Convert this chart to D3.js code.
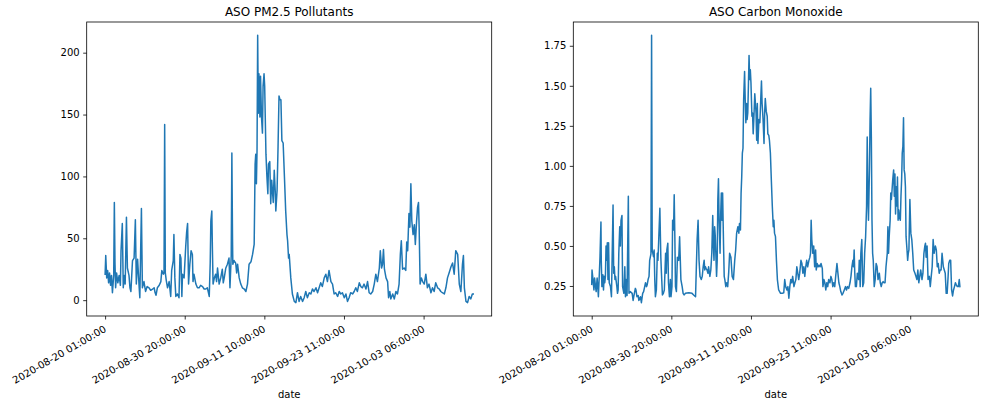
<!DOCTYPE html>
<html><head><meta charset="utf-8">
<script src="https://cdn.jsdelivr.net/npm/d3@7"></script>
<style>body{margin:0;background:#fff} text{font-family:"DejaVu Sans",sans-serif}</style>
</head><body><svg id="c" width="985" height="406"></svg>
<script>
// ---------------- data ----------------
const tickIndex = [0, 250, 500, 750, 1000];
const tickLabels = ["2020-08-20 01:00:00","2020-08-30 20:00:00","2020-09-11 10:00:00","2020-09-23 11:00:00","2020-10-03 06:00:00"];
const lastIndex = 1156;
const xLabel = "date";
const pmTitle = "ASO PM2.5 Pollutants";
const coTitle = "ASO Carbon Monoxide";
const pmTicks = [0, 50, 100, 150, 200];
const coTicks = [0.25, 0.50, 0.75, 1.00, 1.25, 1.50, 1.75];

// [row index, PM2.5]
const pm25 = [[0,21],[2,36],[5,18],[8,24],[11,14],[14,22],[17,12],[20,20],[23,6],[27,20],[29,79],[31,30],[33,10],[36,22],[40,14],[44,20],[48,12],[50,40],[54,62],[57,10],[60,20],[63,13],[67,67],[70,26],[75,20],[78,10],[81,7],[86,32],[91,34],[95,65],[98,13],[102,33],[107,10],[109,2],[114,74],[117,10],[122,15],[127,7],[132,11],[138,10],[143,8],[149,9],[154,10],[157,6],[160,4],[164,10],[170,12],[175,15],[178,24],[183,21],[185,22],[187,142],[189,22],[192,16],[196,10],[201,15],[206,3],[209,24],[214,32],[216,53],[219,18],[222,3],[227,5],[232,2],[235,37],[238,34],[241,3],[243,21],[248,18],[253,43],[256,55],[259,62],[262,13],[266,29],[270,40],[274,37],[276,15],[279,21],[285,13],[290,10],[295,10],[300,12],[306,11],[311,9],[316,9],[321,10],[327,3],[330,30],[332,64],[335,72],[337,40],[339,13],[343,18],[347,21],[350,15],[353,26],[358,13],[363,18],[368,25],[371,14],[374,18],[379,26],[384,29],[389,34],[392,10],[396,36],[398,119],[400,50],[401,29],[405,32],[410,30],[413,22],[416,29],[421,18],[426,13],[431,10],[437,9],[442,7],[447,13],[452,29],[458,31],[463,37],[468,45],[471,110],[473,118],[475,94],[477,121],[479,214],[481,151],[483,183],[486,148],[488,181],[491,148],[494,135],[496,173],[499,183],[501,173],[505,118],[508,100],[511,86],[513,110],[517,112],[520,78],[523,97],[528,79],[531,105],[534,89],[536,72],[540,89],[543,124],[546,165],[549,162],[552,162],[555,129],[559,127],[563,100],[567,72],[571,53],[573,48],[576,34],[578,37],[583,18],[588,5],[594,-1],[599,-2],[604,6],[609,-1],[614,3],[620,-1],[625,2],[630,7],[635,2],[641,6],[646,5],[651,9],[656,7],[662,10],[667,6],[672,10],[677,14],[682,11],[688,18],[693,21],[698,15],[703,24],[709,15],[714,13],[719,5],[724,6],[730,3],[735,7],[740,5],[745,6],[751,2],[756,5],[761,-1],[766,2],[771,6],[777,5],[782,7],[787,10],[792,7],[798,14],[803,11],[808,10],[813,13],[819,9],[824,15],[829,6],[834,5],[840,7],[845,13],[850,21],[855,15],[861,26],[864,40],[868,26],[871,29],[874,41],[877,25],[882,18],[887,15],[890,2],[894,7],[897,1],[903,5],[908,1],[913,7],[918,5],[923,13],[927,37],[930,48],[934,25],[939,26],[944,24],[947,47],[950,40],[954,70],[957,59],[960,94],[963,64],[967,53],[971,61],[974,45],[978,64],[981,75],[984,79],[986,59],[989,13],[993,18],[997,15],[1002,13],[1007,21],[1012,10],[1017,13],[1023,6],[1028,10],[1033,7],[1038,14],[1044,10],[1049,9],[1054,7],[1059,6],[1065,5],[1070,10],[1075,18],[1080,22],[1086,27],[1091,30],[1096,21],[1101,40],[1107,37],[1112,13],[1117,7],[1122,29],[1125,36],[1128,10],[1133,-1],[1138,-2],[1143,3],[1148,1],[1153,5],[1156,5]];

// [row index, CO]
const co = [[0,0.26],[1,0.35],[4,0.29],[7,0.225],[9,0.30],[12,0.246],[14,0.215],[17,0.30],[19,0.246],[21,0.183],[24,0.33],[26,0.43],[29,0.65],[30,0.41],[32,0.246],[35,0.32],[37,0.225],[39,0.31],[41,0.27],[43,0.31],[45,0.50],[47,0.41],[49,0.52],[51,0.29],[53,0.52],[55,0.27],[59,0.246],[62,0.183],[64,0.41],[67,0.756],[69,0.33],[71,0.37],[73,0.29],[75,0.31],[79,0.246],[81,0.204],[83,0.225],[85,0.45],[88,0.62],[90,0.50],[92,0.66],[95,0.69],[97,0.246],[101,0.204],[104,0.37],[106,0.183],[108,0.29],[111,0.19],[113,0.50],[115,0.81],[117,0.204],[121,0.215],[127,0.204],[130,0.16],[132,0.183],[137,0.235],[139,0.225],[142,0.183],[146,0.19],[148,0.16],[153,0.183],[156,0.146],[160,0.204],[163,0.215],[169,0.27],[172,0.246],[174,0.256],[177,0.29],[180,0.31],[182,0.41],[186,0.45],[188,1.815],[190,0.47],[192,0.454],[194,0.433],[196,0.475],[198,0.29],[200,0.183],[203,0.225],[206,0.454],[208,0.41],[210,0.517],[214,0.735],[217,0.43],[219,0.33],[222,0.194],[225,0.204],[228,0.225],[232,0.454],[234,0.33],[236,0.475],[239,0.517],[241,0.27],[244,0.183],[247,0.29],[249,0.183],[252,0.246],[254,0.66],[257,0.60],[259,0.82],[261,0.56],[263,0.246],[266,0.215],[269,0.43],[273,0.41],[276,0.558],[280,0.29],[284,0.246],[287,0.204],[290,0.194],[294,0.204],[305,0.208],[315,0.204],[320,0.194],[326,0.183],[328,0.33],[331,0.54],[334,0.66],[337,0.41],[340,0.31],[344,0.29],[347,0.31],[350,0.37],[353,0.41],[355,0.35],[357,0.37],[359,0.36],[362,0.35],[365,0.33],[367,0.37],[371,0.31],[374,0.35],[377,0.454],[380,0.69],[382,0.50],[384,0.41],[386,0.62],[388,0.56],[392,0.31],[394,0.41],[396,0.79],[398,0.92],[400,0.66],[403,0.454],[405,0.70],[407,0.83],[409,0.66],[411,0.83],[414,0.50],[416,0.31],[418,0.29],[421,0.246],[424,0.27],[427,0.246],[430,0.33],[433,0.454],[437,0.43],[441,0.31],[445,0.29],[449,0.41],[452,0.475],[455,0.58],[459,0.62],[462,0.58],[464,0.64],[467,0.60],[469,0.83],[471,0.93],[473,1.08],[475,1.11],[477,1.41],[480,1.59],[482,1.41],[484,1.27],[486,1.39],[488,1.29],[490,1.33],[492,1.50],[494,1.69],[496,1.54],[498,1.60],[500,1.52],[503,1.31],[505,1.33],[507,1.20],[509,1.29],[512,1.45],[514,1.39],[516,1.33],[518,1.16],[520,1.39],[522,1.14],[525,1.29],[528,1.27],[531,1.43],[533,1.53],[535,1.39],[538,1.29],[541,1.14],[543,1.33],[545,1.42],[548,1.34],[551,1.31],[553,1.20],[556,1.19],[558,1.16],[561,1.08],[564,0.91],[567,0.75],[570,0.62],[572,0.66],[574,0.58],[577,0.558],[580,0.41],[583,0.29],[587,0.225],[593,0.204],[598,0.204],[603,0.208],[606,0.29],[609,0.246],[613,0.225],[616,0.246],[619,0.173],[622,0.246],[625,0.29],[628,0.27],[631,0.31],[635,0.246],[638,0.27],[641,0.29],[644,0.37],[647,0.33],[650,0.29],[653,0.33],[657,0.41],[660,0.39],[663,0.33],[666,0.37],[669,0.31],[672,0.37],[675,0.41],[678,0.37],[682,0.41],[685,0.43],[687,0.454],[689,0.66],[691,0.54],[694,0.454],[697,0.50],[700,0.37],[703,0.475],[705,0.35],[708,0.39],[711,0.37],[714,0.38],[717,0.37],[720,0.39],[724,0.36],[726,0.246],[729,0.29],[732,0.27],[735,0.225],[738,0.27],[741,0.246],[744,0.29],[748,0.27],[751,0.31],[754,0.29],[757,0.246],[760,0.27],[763,0.246],[766,0.31],[770,0.39],[773,0.33],[776,0.27],[779,0.246],[782,0.215],[786,0.194],[789,0.204],[793,0.225],[797,0.246],[800,0.225],[803,0.246],[807,0.235],[811,0.27],[814,0.31],[817,0.37],[820,0.41],[822,0.37],[824,0.475],[826,0.33],[828,0.246],[831,0.246],[834,0.33],[838,0.29],[840,0.41],[843,0.246],[845,0.454],[848,0.54],[851,0.246],[854,0.27],[857,0.454],[860,0.558],[863,0.746],[865,1.18],[867,0.83],[869,0.66],[872,0.975],[874,1.29],[876,1.485],[878,1.18],[880,0.66],[882,0.454],[884,0.41],[887,0.246],[890,0.29],[893,0.39],[896,0.37],[899,0.29],[903,0.33],[906,0.27],[909,0.246],[912,0.27],[915,0.277],[918,0.27],[921,0.27],[924,0.37],[928,0.454],[930,0.62],[932,0.454],[934,0.558],[937,0.66],[939,0.83],[941,0.79],[943,0.85],[945,0.91],[948,0.975],[950,0.81],[952,0.95],[954,0.70],[956,0.87],[958,0.75],[960,0.93],[962,0.66],[964,0.725],[966,0.68],[969,0.66],[971,0.81],[973,0.91],[975,1.08],[977,1.12],[979,1.30],[981,0.975],[983,0.95],[985,0.87],[987,0.558],[990,0.475],[992,0.41],[994,0.454],[996,0.475],[999,0.79],[1002,0.58],[1005,0.54],[1008,0.454],[1011,0.35],[1015,0.33],[1018,0.31],[1021,0.29],[1024,0.35],[1027,0.27],[1030,0.31],[1033,0.35],[1037,0.29],[1040,0.33],[1043,0.454],[1046,0.50],[1048,0.517],[1050,0.43],[1053,0.50],[1056,0.29],[1060,0.31],[1063,0.246],[1066,0.31],[1069,0.37],[1072,0.54],[1075,0.454],[1079,0.50],[1082,0.475],[1085,0.37],[1088,0.39],[1091,0.33],[1094,0.35],[1097,0.35],[1100,0.454],[1104,0.37],[1107,0.35],[1110,0.33],[1113,0.204],[1116,0.204],[1119,0.31],[1121,0.39],[1124,0.41],[1127,0.41],[1130,0.225],[1133,0.1875],[1136,0.225],[1139,0.246],[1142,0.27],[1145,0.256],[1148,0.246],[1151,0.246],[1154,0.29],[1156,0.246]];

// ---------------- drawing ----------------
const svg = d3.select("#c");
const axTop = 22, axBottom = 316;
const panels = [
  {left: 86.7, right: 491.7, data: pm25, ticks: pmTicks, fmt: d3.format("d"), title: pmTitle},
  {left: 573.3, right: 978.3, data: co, ticks: coTicks, fmt: d3.format(".2f"), title: coTitle}
];
const lineColor = "#1f77b4";

panels.forEach(p => {
  const pad = 0.05 * lastIndex;
  const x = d3.scaleLinear().domain([-pad, lastIndex + pad]).range([p.left, p.right]);
  const [mn, mx] = d3.extent(p.data, d => d[1]);
  const yp = 0.05 * (mx - mn);
  const y = d3.scaleLinear().domain([mn - yp, mx + yp]).range([axBottom, axTop]);

  const g = svg.append("g");
  g.append("path")
    .datum(p.data)
    .attr("fill", "none")
    .attr("stroke", lineColor)
    .attr("stroke-width", 1.5)
    .attr("stroke-linejoin", "round")
    .attr("stroke-linecap", "square")
    .attr("d", d3.line().x(d => x(d[0])).y(d => y(d[1])));

  g.append("rect")
    .attr("x", p.left).attr("y", axTop)
    .attr("width", p.right - p.left).attr("height", axBottom - axTop)
    .attr("fill", "none").attr("stroke", "#000").attr("stroke-width", 0.8);

  const xa = g.append("g").attr("transform", `translate(0,${axBottom})`)
    .call(d3.axisBottom(x).tickValues(tickIndex).tickFormat((d, i) => tickLabels[i]).tickSize(3.5).tickPadding(3.5));
  xa.select(".domain").remove();
  xa.selectAll(".tick line").attr("stroke", "#000").attr("stroke-width", 0.8);
  xa.selectAll(".tick text")
    .attr("font-size", 10).attr("fill", "#000")
    .attr("font-family", "DejaVu Sans")
    .attr("text-anchor", "end")
    .attr("x", 0).attr("y", 0).attr("dy", 0)
    .attr("transform", "translate(1.5,15) rotate(-30)");

  const ya = g.append("g").attr("transform", `translate(${p.left},0)`)
    .call(d3.axisLeft(y).tickValues(p.ticks).tickFormat(p.fmt).tickSize(3.5).tickPadding(3.5));
  ya.select(".domain").remove();
  ya.selectAll(".tick line").attr("stroke", "#000").attr("stroke-width", 0.8);
  ya.selectAll(".tick text").attr("font-size", 10).attr("fill", "#000").attr("font-family", "DejaVu Sans");

  g.append("text")
    .attr("x", (p.left + p.right) / 2).attr("y", 16)
    .attr("text-anchor", "middle").attr("font-size", 12).attr("fill", "#000")
    .text(p.title);

  g.append("text")
    .attr("x", (p.left + p.right) / 2).attr("y", 398)
    .attr("text-anchor", "middle").attr("font-size", 10).attr("fill", "#000")
    .text(xLabel);
});
</script>
</body></html>
